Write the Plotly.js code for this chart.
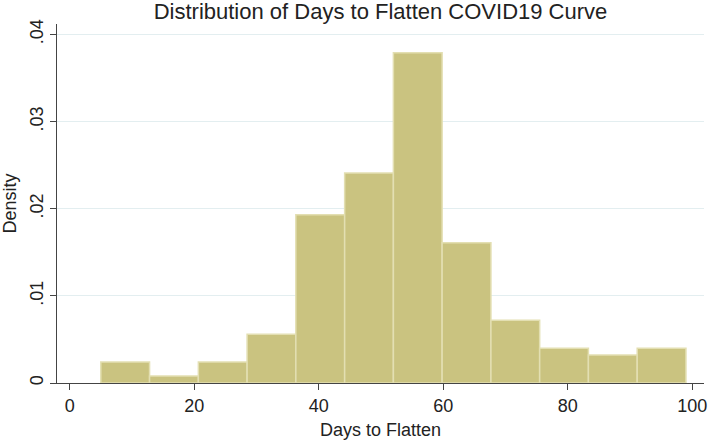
<!DOCTYPE html>
<html>
<head>
<meta charset="utf-8">
<script src="https://cdn.plot.ly/plotly-3.0.1.min.js"></script>
<style>html,body{margin:0;padding:0;background:#fff;}#chart{width:709px;height:440px;}</style>
</head>
<body>
<div id="chart"></div>
<script>
// Histogram bin edges (days) and density per bin
const binEdges = [5, 12.83, 20.67, 28.5, 36.33, 44.17, 52, 59.83, 67.67, 75.5, 83.33, 91.17, 99];
const densities = [0.0024, 0.0008, 0.0024, 0.0056, 0.0193, 0.0241, 0.0379, 0.0161, 0.0072, 0.0040, 0.0032, 0.0040];
const xTickVals = [0, 20, 40, 60, 80, 100];
const xTickText = ['0', '20', '40', '60', '80', '100'];
const yTickVals = [0, 0.01, 0.02, 0.03, 0.04];
const yTickText = ['0', '.01', '.02', '.03', '.04'];

const centers = densities.map((_, i) => (binEdges[i] + binEdges[i + 1]) / 2);
const widths = densities.map((_, i) => binEdges[i + 1] - binEdges[i]);

const font = 'Liberation Sans, Arial, sans-serif';

const trace = {
  type: 'bar',
  x: centers,
  y: densities,
  width: widths,
  marker: { color: '#cac380', line: { color: '#e3dfb2', width: 1.5 } },
  hoverinfo: 'x+y'
};

const layout = {
  width: 709, height: 440,
  margin: { l: 57, r: 5, t: 24, b: 57 },
  paper_bgcolor: '#ffffff', plot_bgcolor: '#ffffff',
  showlegend: false,
  bargap: 0,
  font: { family: font, color: '#222', size: 18 },
  title: {
    text: 'Distribution of Days to Flatten COVID19 Curve',
    font: { family: font, size: 22, color: '#222' },
    xref: 'paper', x: 0.5, xanchor: 'center',
    yref: 'container', y: 0.974, yanchor: 'middle'
  },
  xaxis: {
    range: [-2.04, 101.9],
    tickvals: xTickVals, ticktext: xTickText,
    ticks: 'outside', ticklen: 6, tickwidth: 1, tickcolor: '#444',
    showline: true, linecolor: '#444', linewidth: 1,
    showgrid: false, zeroline: false,
    tickfont: { size: 18, color: '#222' },
    title: { text: 'Days to Flatten', font: { size: 18, color: '#222' }, standoff: 8 },
    automargin: false
  },
  yaxis: {
    range: [0, 0.0412],
    tickvals: yTickVals, ticktext: yTickText, tickangle: -90,
    ticks: 'outside', ticklen: 6, tickwidth: 1, tickcolor: '#444',
    showline: true, linecolor: '#444', linewidth: 1,
    showgrid: true, gridcolor: '#e3eef0', gridwidth: 1,
    zeroline: false,
    tickfont: { size: 18, color: '#222' },
    title: { text: 'Density', font: { size: 18, color: '#222' }, standoff: 6 },
    automargin: false
  }
};

Plotly.newPlot('chart', [trace], layout, { displayModeBar: false, staticPlot: true });
</script>
</body>
</html>
